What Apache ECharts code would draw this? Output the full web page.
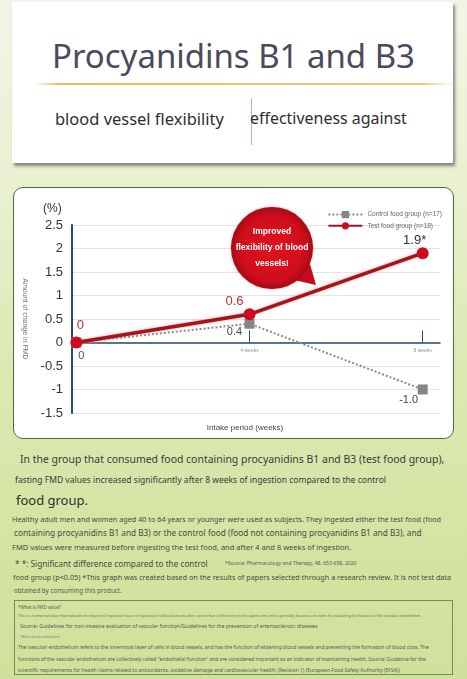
<!DOCTYPE html>
<html>
<head>
<meta charset="utf-8">
<script src="https://cdn.jsdelivr.net/npm/echarts@6/dist/echarts.min.js"></script>
<style>
  html, body { margin: 0; padding: 0; }
  #page {
    position: relative; width: 467px; height: 679px; overflow: hidden;
    background: linear-gradient(180deg, #f2f5e6 0%, #eaf1d2 25%, #dce9b2 55%, #d3e4a2 80%, #cfe19b 100%);
    font-family: "Noto Sans", sans-serif;
  }
  .card {
    position: absolute; left: 12px; top: 2px; width: 441px; height: 161px;
    background: #fff; box-shadow: 2px 3px 3px rgba(60, 60, 60, 0.6);
  }
  .rule {
    position: absolute; left: 22px; top: 81px; width: 421px; height: 2px;
    background: linear-gradient(90deg, rgba(232,200,96,0), #e3bd58 6%, #ebcb72 92%, rgba(232,200,96,0));
  }
  .divider { position: absolute; left: 239px; top: 96px; width: 1px; height: 47px; background: #c9a6bd; }
  #chartBox {
    position: absolute; left: 13px; top: 187px; width: 439px; height: 250px;
    background: #fff; border: 1.5px solid #44703a; border-radius: 10px;
  }
  #chart { position: absolute; left: 13px; top: 187px; width: 442px; height: 253px; }
  .t { position: absolute; white-space: nowrap; line-height: 1; }
  .fmdbox { position: absolute; left: 14px; top: 600px; width: 437px; height: 73px; border: 1.5px solid #738f55; }
</style>
</head>
<body>
<div id="page">
  <div class="card">
    <div class="rule"></div>
    <div class="divider"></div>
  </div>
  <div id="chartBox"></div>
  <div id="chart"></div>
  <div class="fmdbox"></div>
</div>
<script>
// chart values
const weeks = [0, 4, 8];
const xTickLabels = ['0', '4 weeks', '8 weeks'];
const seriesNames = ['Control food group (n=17)', 'Test food group (n=18)'];
const controlValues = [0, 0.4, -1.0];
const testValues = [0, 0.6, 1.9];
const controlLabels = ['0', '0.4', '-1.0'];
const testLabels = ['0', '0.6', '1.9*'];
const yMin = -1.5, yMax = 2.5, yStep = 0.5;

// page texts: [text, left, centerY, width, color, weight]
const texts = [
  ['Procyanidins B1 and B3', 52, 58, 363, '#4b4a5c', 400],
  ['blood vessel flexibility', 55, 120, 169, '#2e2e2e', 400],
  ['effectiveness against', 250, 120, 157, '#2e2e2e', 400],
  ['In the group that consumed food containing procyanidins B1 and B3 (test food group),', 20, 460, 425, '#3a3a3a', 400],
  ['fasting FMD values increased significantly after 8 weeks of ingestion compared to the control', 15, 481, 372, '#3a3a3a', 400],
  ['food group.', 16, 501, 72, '#2e2e2e', 400],
  ['Healthy adult men and women aged 40 to 64 years or younger were used as subjects. They ingested either the test food (food', 12, 520, 430, '#4a4a44', 400],
  ['containing procyanidins B1 and B3) or the control food (food not containing procyanidins B1 and B3), and', 14, 534, 408, '#4a4a44', 400],
  ['FMD values were measured before ingesting the test food, and after 4 and 8 weeks of ingestion.', 12, 548, 340, '#4a4a44', 400],
  ['* *: Significant difference compared to the control', 15, 565, 193, '#4a4a44', 400],
  ['*Source: Pharmacology and Therapy, 48, 653-658, 2020', 225, 564, 132, '#5a5a50', 400],
  ['food group (p<0.05) *This graph was created based on the results of papers selected through a research review. It is not test data', 13, 578, 439, '#4a4a44', 400],
  ['obtained by consuming this product.', 14, 591, 108, '#5a5a50', 400],
  ['*What is FMD value?', 18, 607, 43, '#5a5a50', 400],
  ['This is a numerical value that indicates the degree of expansion (ease of expansion) of blood vessels after constriction of the artery in the upper arm, and is generally known as an index for evaluating the function of the vascular endothelium.', 18, 616, 404, '#6a6a60', 400],
  ['Source: Guidelines for non-invasive evaluation of vascular function/Guidelines for the prevention of arteriosclerotic diseases', 20, 627, 298, '#5a5a50', 400],
  ['*What is vascular endothelium?', 20, 637, 40, '#7a7a70', 400],
  ['The vascular endothelium refers to the innermost layer of cells in blood vessels, and has the function of widening blood vessels and preventing the formation of blood clots. The', 18, 648, 412, '#5a5a50', 400],
  ['functions of the vascular endothelium are collectively called "endothelial function" and are considered important as an indicator of maintaining health. Source: Guidance for the', 18, 660, 409, '#5a5a50', 400],
  ['scientific requirements for health claims related to antioxidants, oxidative damage and cardiovascular health: (Revision 1) (European Food Safety Authority (EFSA))', 18, 671, 383, '#5a5a50', 400]
];

const page = document.getElementById('page');
texts.forEach(([str, x, cy, w, color, weight]) => {
  const el = document.createElement('div');
  el.className = 't';
  el.textContent = str;
  el.style.color = color;
  el.style.fontWeight = weight;
  el.style.fontSize = '20px';
  page.appendChild(el);
  const fs = 20 * w / el.getBoundingClientRect().width;
  el.style.fontSize = fs + 'px';
  el.style.left = x + 'px';
  el.style.top = (cy - fs * 0.55) + 'px';
});

// label placement per point
const testLabelCfg = [
  { position: 'top', offset: [4, 0], color: '#b8322c' },
  { position: 'top', offset: [-15, 5], color: '#b8322c' },
  { position: 'top', offset: [-8, 5], color: '#333' }
];
const controlLabelCfg = [
  { position: 'bottom', offset: [5, -2], color: '#555', fontSize: 11 },
  { position: 'bottom', offset: [-15, -7], color: '#444', fontSize: 11 },
  { position: 'bottom', offset: [-14, -5], color: '#444', fontSize: 11 }
];

const chart = echarts.init(document.getElementById('chart'));
chart.setOption({
  animation: false,
  textStyle: { fontFamily: 'Liberation Sans' },
  grid: { left: 58, right: 15, top: 38, bottom: 27 },
  legend: {
    data: seriesNames,
    orient: 'vertical',
    right: 8,
    top: 19,
    itemWidth: 34,
    itemHeight: 9,
    itemGap: 4,
    textStyle: { fontSize: 6.5, color: '#666' }
  },
  xAxis: {
    type: 'value',
    min: -0.1,
    max: 8.4,
    axisLine: { onZero: true, lineStyle: { color: '#2b4a6b', width: 1.5 } },
    axisTick: { show: true, customValues: weeks.slice(1), inside: true, length: 12, lineStyle: { color: '#2b4a6b', width: 1 } },
    axisLabel: { show: false },
    splitLine: { show: false }
  },
  yAxis: {
    type: 'value',
    min: yMin,
    max: yMax,
    interval: yStep,
    name: 'Amount of change in FMD',
    nameLocation: 'middle',
    nameRotate: -90,
    nameGap: 44,
    nameTextStyle: { fontSize: 7, color: '#777' },
    axisLine: { show: true, onZero: false, lineStyle: { color: '#2b4a6b', width: 2 } },
    axisTick: { show: false },
    axisLabel: { fontSize: 13, color: '#333', margin: 9 },
    splitLine: { lineStyle: { color: '#e4e4e4' } }
  },
  series: [
    {
      // week tick labels sitting under the zero line
      type: 'scatter',
      silent: true,
      symbolSize: 0,
      data: weeks.slice(1).map((w, i) => ({ value: [w, 0], label: { formatter: xTickLabels[i + 1] } })),
      label: { show: true, position: 'bottom', distance: 6, fontSize: 5, color: '#777' },
      z: 1
    },
    {
      name: seriesNames[0],
      type: 'line',
      data: weeks.map((w, i) => ({
        value: [w, controlValues[i]],
        label: { show: true, formatter: controlLabels[i], ...controlLabelCfg[i] }
      })),
      symbol: 'rect',
      symbolSize: 10,
      itemStyle: { color: '#858585' },
      lineStyle: { color: '#8a8a8a', width: 2, type: 'dotted' },
      z: 2
    },
    {
      name: seriesNames[1],
      type: 'line',
      data: weeks.map((w, i) => ({
        value: [w, testValues[i]],
        label: {
          show: true,
          formatter: testLabels[i],
          fontSize: 13,
          ...testLabelCfg[i]
        }
      })),
      symbol: 'circle',
      symbolSize: 12,
      itemStyle: { color: '#d00a1e' },
      lineStyle: { color: '#a3141f', width: 3.5, shadowColor: 'rgba(255,140,140,0.9)', shadowBlur: 3 },
      z: 3
    }
  ],
  graphic: [
    { type: 'text', left: 30, top: 16, style: { text: '(%)', fontSize: 12, fill: '#333', fontFamily: 'Liberation Sans' } },
    { type: 'text', x: 232, y: 241, style: { text: 'Intake period (weeks)', fontSize: 8, fill: '#444', align: 'center', verticalAlign: 'middle', fontFamily: 'Liberation Sans' } },
    {
      type: 'polygon', z: 10,
      shape: { points: [[281, 93], [297, 77], [303, 98]] },
      style: { fill: '#c20d1c' }
    },
    {
      type: 'circle', z: 10,
      shape: { cx: 259, cy: 61, r: 41 },
      style: {
        fill: new echarts.graphic.RadialGradient(0.5, 0.5, 0.5, [
          { offset: 0, color: '#e2121f' },
          { offset: 0.8, color: '#d00d1c' },
          { offset: 1, color: '#a50a15' }
        ]),
        shadowColor: 'rgba(150,0,0,0.4)', shadowBlur: 3
      }
    },
    {
      type: 'text', z: 11, x: 259, y: 61,
      style: {
        text: 'Improved\nflexibility of blood\nvessels!',
        fill: '#fff', fontSize: 8.5, fontWeight: 'bold', lineHeight: 16,
        align: 'center', verticalAlign: 'middle', fontFamily: 'Liberation Sans'
      }
    }
  ]
});
</script>
</body>
</html>
